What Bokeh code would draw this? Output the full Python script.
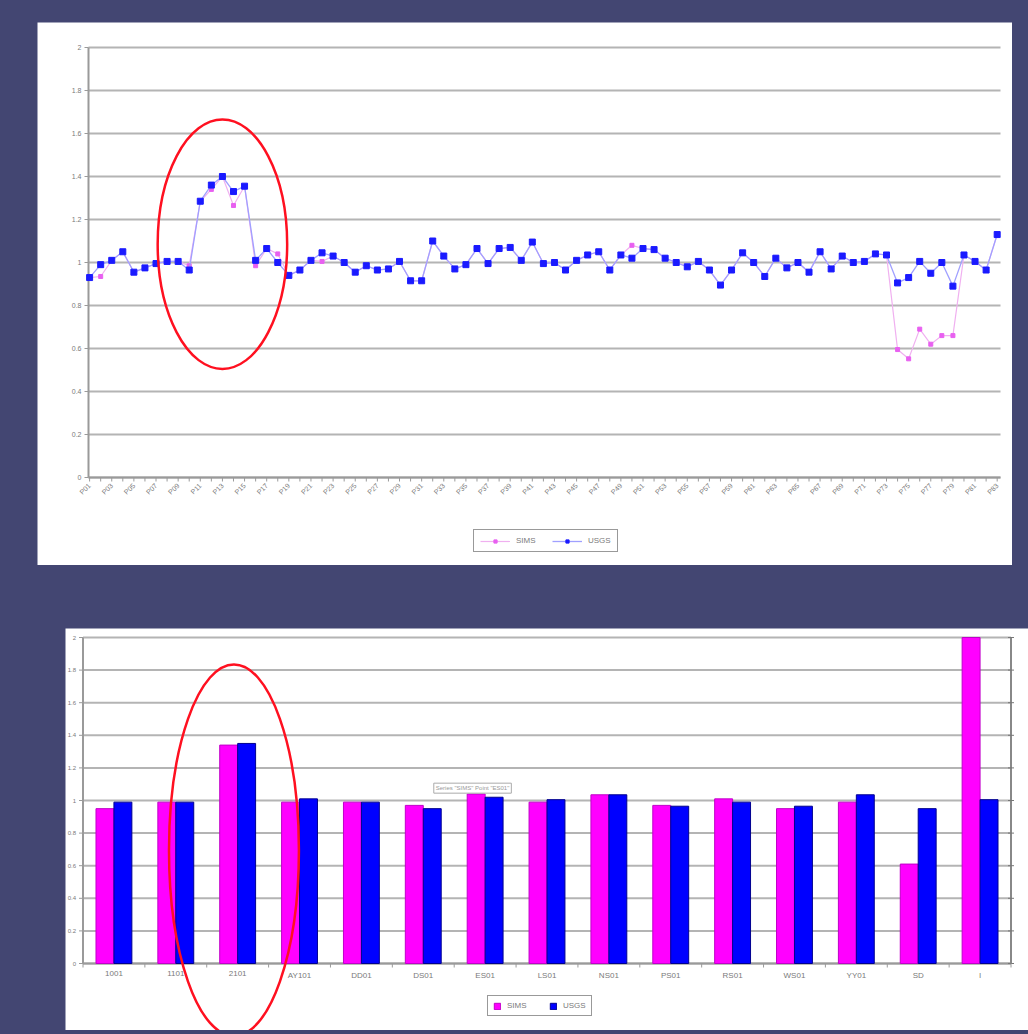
import math
from bokeh.plotting import figure
from bokeh.models import (ColumnDataSource, Legend, LegendItem, Range1d, FactorRange, Label)
from bokeh.layouts import column
from bokeh.transform import dodge
from bokeh.embed import file_html
from bokeh.resources import INLINE
from bokeh.core.properties import value

# ---------------- top chart data ----------------
sample_labels = ("P01 P02 P03 P04 P05 P06 P07 P08 P09 P10 P11 P12 P13 P14 P15 P16 P17 P18 P19 P20 "
                 "P21 P22 P23 P24 P25 P26 P27 P28 P29 P30 P31 P32 P33 P34 P35 P36 P37 P38 P39 P40 "
                 "P41 P42 P43 P44 P45 P46 P47 P48 P49 P50 P51 P52 P53 P54 P55 P56 P57 P58 P59 P60 "
                 "P61 P62 P63 P64 P65 P66 P67 P68 P69 P70 P71 P72 P73 P74 P75 P76 P77 P78 P79 P80 "
                 "P81 P82 P83").split()

usgs_line = [0.93, 0.99, 1.01, 1.05, 0.955, 0.975, 0.995, 1.005, 1.005, 0.965,
             1.285, 1.36, 1.40, 1.33, 1.355, 1.01, 1.065, 1.0, 0.94, 0.965,
             1.01, 1.045, 1.03, 1.0, 0.955, 0.985, 0.965, 0.97, 1.005, 0.915,
             0.915, 1.10, 1.03, 0.97, 0.99, 1.065, 0.995, 1.065, 1.07, 1.01,
             1.095, 0.995, 1.0, 0.965, 1.01, 1.035, 1.05, 0.965, 1.035, 1.02,
             1.065, 1.06, 1.02, 1.0, 0.98, 1.005, 0.965, 0.895, 0.965, 1.045,
             1.0, 0.935, 1.02, 0.975, 1.0, 0.955, 1.05, 0.97, 1.03, 1.0,
             1.005, 1.04, 1.035, 0.905, 0.93, 1.005, 0.95, 1.0, 0.89, 1.035,
             1.005, 0.965, 1.13]

sims_line = [0.93, 0.935, 1.01, 1.05, 0.955, 0.975, 0.995, 1.005, 1.005, 0.985,
             1.285, 1.34, 1.40, 1.265, 1.355, 0.985, 1.065, 1.04, 0.94, 0.965,
             1.01, 1.005, 1.03, 1.0, 0.955, 0.985, 0.965, 0.97, 1.005, 0.915,
             0.915, 1.10, 1.03, 0.97, 0.99, 1.065, 0.995, 1.065, 1.07, 1.01,
             1.095, 0.995, 1.0, 0.965, 1.01, 1.035, 1.05, 0.965, 1.035, 1.08,
             1.065, 1.06, 1.02, 1.0, 0.98, 1.005, 0.965, 0.895, 0.965, 1.045,
             1.0, 0.935, 1.02, 0.975, 1.0, 0.955, 1.05, 0.97, 1.03, 1.0,
             1.005, 1.04, 1.035, 0.595, 0.552, 0.69, 0.62, 0.66, 0.66, 1.035,
             1.005, 0.965, 1.13]

y_ticks = [0, 0.2, 0.4, 0.6, 0.8, 1, 1.2, 1.4, 1.6, 1.8, 2]
y_tick_text = ["0", "0.2", "0.4", "0.6", "0.8", "1", "1.2", "1.4", "1.6", "1.8", "2"]

# highlight ellipse (top): centre index, centre value, width (points), height (value)
top_highlight = [12, 1.085, 11.7, 1.16]

# ---------------- bottom chart data ----------------
groups = ["1001", "1101", "2101", "AY101", "DD01", "DS01", "ES01", "LS01",
          "NS01", "PS01", "RS01", "WS01", "YY01", "SD", "I"]
sims_ratio = [0.95, 0.99, 1.34, 0.99, 0.99, 0.97, 1.04, 0.99, 1.035, 0.97,
              1.01, 0.95, 0.99, 0.61, 2.0]
usgs_ratio = [0.99, 0.99, 1.35, 1.01, 0.99, 0.95, 1.02, 1.005, 1.035, 0.965,
              0.99, 0.965, 1.035, 0.95, 1.005]
bottom_highlight = [2.44, 0.695, 2.1, 2.28]

FONT = "Liberation Sans"
GRID = "#b4b4b4"
AX = "#9a9a9a"
TXT = "#7a7a7a"


def bare_figure(w, h, xr, yr):
    p = figure(frame_width=w, frame_height=h, output_backend="svg", toolbar_location=None,
               x_range=xr, y_range=yr, x_axis_location=None, y_axis_location=None,
               min_border_left=0, min_border_right=0, min_border_top=0, min_border_bottom=0)
    p.outline_line_color = None
    p.border_fill_color = "white"
    p.background_fill_color = "white"
    p.xgrid.visible = False
    p.ygrid.visible = False
    return p


def y_axis(p, x_axis_pos, x_right, px_x, label_size):
    """grid lines, axis line, ticks and labels drawn from y_ticks."""
    k = len(y_ticks)
    p.segment(x0=[x_axis_pos] * k, y0=y_ticks, x1=[x_right] * k, y1=y_ticks,
              line_color=GRID, line_width=2)
    p.segment(x0=[x_axis_pos], y0=[0], x1=[x_axis_pos], y1=[2], line_color=AX, line_width=2)
    p.segment(x0=[x_axis_pos - 4.0 / px_x] * k, y0=y_ticks, x1=[x_axis_pos] * k, y1=y_ticks,
              line_color=AX, line_width=1)
    p.text(x=[x_axis_pos - 7.0 / px_x] * k, y=y_ticks, text=y_tick_text,
           text_align="right", text_baseline="middle", text_font=value(FONT),
           text_font_size=label_size, text_color=TXT)
    p.segment(x0=[x_axis_pos], y0=[0], x1=[x_right], y1=[0], line_color=AX, line_width=2)


# ================= top figure =================
W1, H1 = 975, 543
n = len(usgs_line)
xs = list(range(n))
ppx1 = 912 / 82.4               # pixels per point step
ppu1 = 430 / 2.0                # pixels per unit
axis_x1 = -0.1
x_start1 = axis_x1 - 51 / ppx1
x_end1 = x_start1 + W1 / ppx1
x_plot_end1 = axis_x1 + 912 / ppx1
y_end1 = 455 / ppu1
y_start1 = y_end1 - H1 / ppu1

src_top = ColumnDataSource(dict(x=xs, usgs=usgs_line, sims=sims_line))
p1 = bare_figure(W1, H1, Range1d(x_start1, x_end1), Range1d(y_start1, y_end1))
y_axis(p1, axis_x1, x_plot_end1, ppx1, "7px")

p1.segment(x0=xs, y0=[0] * n, x1=xs, y1=[-4.0 / ppu1] * n, line_color=AX, line_width=1)
major_x = xs[::2]
p1.text(x=major_x, y=[-7.0 / ppu1] * len(major_x), text=[sample_labels[i] for i in major_x],
        angle=math.pi / 4, text_align="right", text_baseline="middle",
        text_font=value(FONT), text_font_size="7px", text_color=TXT)

l_s = p1.line("x", "sims", source=src_top, line_color="#f0b0f0", line_width=1.2)
m_s = p1.scatter("x", "sims", source=src_top, marker="square", size=4,
                 fill_color="#e860f0", line_color="#e860f0")
l_u = p1.line("x", "usgs", source=src_top, line_color="#a0a0ff", line_width=1.3)
m_u = p1.scatter("x", "usgs", source=src_top, marker="square", size=6,
                 fill_color="#1a1aff", line_color="#1a1aff")

cx, cy, cw, ch = top_highlight
p1.ellipse(x=[cx], y=[cy], width=[cw], height=[ch], fill_color=None,
           line_color="#ff1020", line_width=2.5)

leg1 = Legend(items=[LegendItem(label="SIMS", renderers=[l_s, m_s]),
                     LegendItem(label="USGS", renderers=[l_u, m_u])],
              orientation="horizontal", location=(436, 13),
              label_text_font=FONT, label_text_font_size="8px", label_text_color=TXT,
              glyph_width=30, glyph_height=8, label_height=8, padding=6, spacing=16,
              label_standoff=6,
              border_line_color="#333333", border_line_width=1.5,
              background_fill_color="white", background_fill_alpha=1)
p1.add_layout(leg1)

# ================= bottom figure =================
W2, H2 = 963, 402
ng = len(groups)
ppc = 928 / ng                  # pixels per category
ppu2 = (963 - 637) / 2.0
side_pad = (W2 - 928) / 2.0 / ppc   # padding on each side, in categories
y_end2 = (963 - 628) / ppu2
y_start2 = y_end2 - H2 / ppu2

src_bot = ColumnDataSource(dict(g=groups, sims=sims_ratio, usgs=usgs_ratio))
p2 = bare_figure(W2, H2,
                 FactorRange(factors=groups, range_padding=side_pad,
                             range_padding_units="absolute"),
                 Range1d(y_start2, y_end2))
y_axis(p2, 0.0, float(ng), ppc, "6px")
p2.segment(x0=[ng], y0=[0], x1=[ng], y1=[2], line_color="#888888", line_width=2)
k = len(y_ticks)
p2.segment(x0=[ng - 3.0 / ppc] * k, y0=y_ticks, x1=[ng + 3.0 / ppc] * k, y1=y_ticks,
           line_color="#777777", line_width=1)
bounds = list(range(0, ng + 1))
p2.segment(x0=bounds, y0=[0] * len(bounds), x1=bounds, y1=[-4.0 / ppu2] * len(bounds),
           line_color=AX, line_width=1)

b1 = p2.vbar(x=dodge("g", -0.145, range=p2.x_range), top="sims", width=0.29, source=src_bot,
             fill_color="#ff00ff", line_color="#c000c8", line_width=1)
b2 = p2.vbar(x=dodge("g", 0.145, range=p2.x_range), top="usgs", width=0.29, source=src_bot,
             fill_color="#0000ff", line_color="#000090", line_width=1)

p2.text(x=groups, y=[-7.0 / ppu2] * ng, text=groups, text_align="center", text_baseline="top",
        text_font=value(FONT), text_font_size="8px", text_color=TXT)

p2.add_layout(Label(x=5.67, y=1.045, text='Series "SIMS" Point "ES01"', text_font=FONT,
                    text_font_size="6px", text_color="#999999", border_line_color="#aaaaaa",
                    background_fill_color="white", padding=2))

bx, by, bw, bh = bottom_highlight
p2.ellipse(x=[bx], y=[by], width=[bw], height=[bh], fill_color=None,
           line_color="#ff1020", line_width=2.5)

leg2 = Legend(items=[LegendItem(label="SIMS", renderers=[b1]),
                     LegendItem(label="USGS", renderers=[b2])],
              orientation="horizontal", location=(422, 14),
              label_text_font=FONT, label_text_font_size="8px", label_text_color=TXT,
              glyph_width=8, glyph_height=8, label_height=8, padding=5, spacing=22,
              label_standoff=6,
              border_line_color="#333333", border_line_width=1.5, background_fill_color="white",
              background_fill_alpha=1)
p2.add_layout(leg2)

p1.margin = (22, 0, 0, 37)
p2.margin = (63, 0, 4, 65)
layout = column(p1, p2, styles={"background-color": "#434672"})

open("out.html", "w").write(file_html(layout, INLINE))
